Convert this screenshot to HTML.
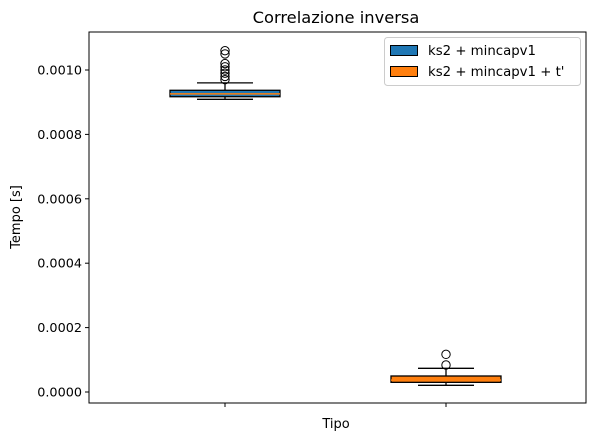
<!DOCTYPE html>
<html><head><meta charset="utf-8"><style>
body{margin:0;background:#fff;}
svg{display:block;font-family:"DejaVu Sans","Liberation Sans",sans-serif;}
</style></head><body>
<svg id="chart" width="593" height="441" xmlns="http://www.w3.org/2000/svg">
<rect x="0" y="0" width="593" height="441" fill="#fff"/>
<text x="336" y="23" font-size="16.3" text-anchor="middle">Correlazione inversa</text>
<g id="yticks"></g>
<g id="xticks"></g>
<g id="boxes"></g>
<rect x="89" y="32" width="497" height="371" fill="none" stroke="#000" stroke-width="1"/>
<text x="336" y="428" font-size="13" text-anchor="middle">Tipo</text>
<text transform="translate(20,217) rotate(-90)" font-size="13" text-anchor="middle">Tempo [s]</text>
<g>
<rect x="384.5" y="37.5" width="196" height="48" rx="3" fill="#fff" stroke="#ccc"/>
<rect x="390.5" y="45.5" width="27" height="10" fill="#1f77b4" stroke="#000"/>
<text x="428" y="55" font-size="13.3">ks2 + mincapv1</text>
<rect x="390.5" y="66.5" width="27" height="10" fill="#ff7f0e" stroke="#000"/>
<text x="428" y="76" font-size="13.3">ks2 + mincapv1 + t'</text>
</g>
</svg>
<script>
const categories=["ks2 + mincapv1","ks2 + mincapv1 + t'"];
const colors=["#1f77b4","#ff7f0e"];
const q1=[0.000917,0.0000300];
const medians=[0.000926,0.0000370];
const q3=[0.000937,0.0000497];
const whiskLo=[0.000909,0.0000208];
const whiskHi=[0.000960,0.0000736];
const outliers=[[0.00106,0.00105,0.00102,0.00101,0.00100,0.00099,0.00098,0.00097],[0.000117,0.000084]];
const yTicks=[0,0.0002,0.0004,0.0006,0.0008,0.0010];
const yTickLabels=["0.0000","0.0002","0.0004","0.0006","0.0008","0.0010"];
const NS="http://www.w3.org/2000/svg";
function y(v){return 392 - v*322000;}
function x(i){return 225 + i*221;}
function mk(tag,attrs,parent){const e=document.createElementNS(NS,tag);for(const k in attrs)e.setAttribute(k,attrs[k]);parent.appendChild(e);return e;}
const yt=document.getElementById('yticks');
yTicks.forEach((v,i)=>{
 const l=mk('line',{x1:85,x2:89,y1:y(v),y2:y(v),stroke:'#000'},yt);
 
 
 const t=mk('text',{x:82,y:y(v)+4.5,'font-size':12.8,'text-anchor':'end'},yt);
 t.textContent=yTickLabels[i];
 
 
});
const xt=document.getElementById('xticks');
categories.forEach((c,i)=>{
 const l=mk('line',{x1:x(i),x2:x(i),y1:403,y2:407,stroke:'#000'},xt);
 
 
});
const bx=document.getElementById('boxes');
categories.forEach((c,i)=>{
 const cx=x(i),hw=55,cw=28;
 const g=mk('g',{},bx);
 
 
 mk('line',{x1:cx,x2:cx,y1:y(q1[i]),y2:y(whiskLo[i]),stroke:'#000','stroke-width':1.3},g);
 mk('line',{x1:cx,x2:cx,y1:y(q3[i]),y2:y(whiskHi[i]),stroke:'#000','stroke-width':1.3},g);
 mk('line',{x1:cx-cw,x2:cx+cw,y1:y(whiskLo[i]),y2:y(whiskLo[i]),stroke:'#000','stroke-width':1.3},g);
 mk('line',{x1:cx-cw,x2:cx+cw,y1:y(whiskHi[i]),y2:y(whiskHi[i]),stroke:'#000','stroke-width':1.3},g);
 mk('rect',{x:cx-hw,y:y(q3[i]),width:2*hw,height:y(q1[i])-y(q3[i]),fill:colors[i],stroke:'#000','stroke-width':1.3},g);
 mk('line',{x1:cx-hw,x2:cx+hw,y1:y(medians[i]),y2:y(medians[i]),stroke:'#ff7f0e','stroke-width':1.5},g);
 outliers[i].forEach(v=>{
  const o=mk('circle',{cx:cx,cy:y(v),r:4.2,fill:'none',stroke:'#000'},g);
  
  
 });
});
</script>
</body></html>
